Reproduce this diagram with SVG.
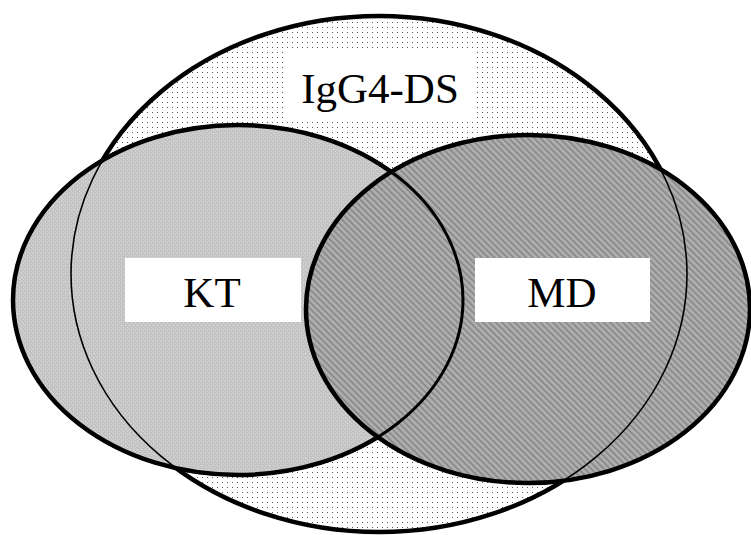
<svg xmlns="http://www.w3.org/2000/svg" width="751" height="535" viewBox="0 0 751 535">
<style>
.lbl{font-family:"Liberation Serif","Times New Roman",serif;font-size:43px;fill:#000;text-anchor:middle}
.box{fill:#fff}
.edge{fill:none;stroke:#000}
</style>
<defs>
<pattern id="dots" width="5" height="5" patternUnits="userSpaceOnUse">
<rect width="5" height="5" fill="#fff"/>
<rect x="2" y="2" width="1" height="1" fill="#555"/>
</pattern>
<pattern id="fine" width="4" height="4" patternUnits="userSpaceOnUse">
<rect width="4" height="4" fill="#c4c4c4"/>
<rect x="1" y="1" width="1" height="1" fill="#e6e6e6"/>
<rect x="3" y="3" width="1" height="1" fill="#d8d8d8"/>
</pattern>
<pattern id="hatch" width="4.5" height="4.5" patternUnits="userSpaceOnUse" patternTransform="rotate(-45)">
<rect width="4.5" height="4.5" fill="#b0b0b0"/>
<rect x="0" y="0" width="2" height="4.5" fill="#8c8c8c"/>
</pattern>
</defs>
<g id="igg4ds">
<ellipse cx="379" cy="274" rx="308" ry="258" fill="url(#dots)" stroke="#000" stroke-width="4.5"/>
</g>
<g id="kt">
<ellipse cx="238" cy="300" rx="225" ry="175" fill="url(#fine)" stroke="#000" stroke-width="4.5"/>
</g>
<g id="md">
<ellipse cx="528" cy="309" rx="222" ry="174" fill="url(#hatch)" stroke="#000" stroke-width="4.5"/>
</g>
<g id="connectors">
<ellipse class="edge" cx="379" cy="274" rx="308" ry="258" stroke-width="1.6"/>
<ellipse class="edge" cx="238" cy="300" rx="225" ry="175" stroke-width="3"/>
</g>
<g id="labels">
<rect class="box" x="287" y="52" width="187" height="69"/>
<text class="lbl" x="380" y="103">IgG4-DS</text>
<rect class="box" x="125" y="258" width="176" height="64"/>
<text class="lbl" x="212" y="307">KT</text>
<rect class="box" x="475" y="258" width="175" height="64"/>
<text class="lbl" x="562" y="307">MD</text>
</g>
</svg>
